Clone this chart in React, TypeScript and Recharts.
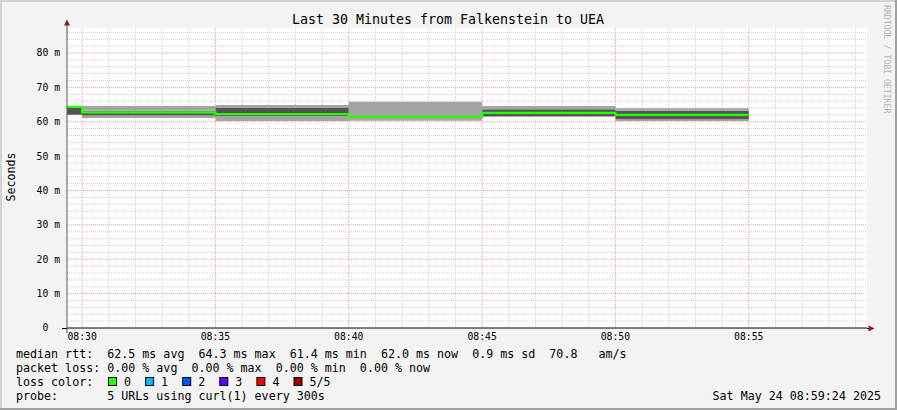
import { ComposedChart, Area, Line, XAxis, YAxis, CartesianGrid } from "recharts";

const MONO = "'DejaVu Sans Mono', monospace";

// step start times; the last entry closes the final step
const stepTimes = ["08:29:26", "08:30:00", "08:35:00", "08:40:00", "08:45:00", "08:50:00", "08:55:00"];

// five sorted pings per step (ms), median drawn in the loss colour
const pingLow = [62.0, 61.1, 60.2, 60.3, 61.4, 60.2];
const pingQ1 = [62.0, 61.8, 61.7, 61.2, 61.7, 60.7];
const medianRtt = [64.3, 62.7, 62.2, 61.4, 62.6, 62.0];
const pingQ3 = [64.1, 63.2, 64.0, 61.7, 63.6, 63.2];
const pingHigh = [64.1, 64.6, 64.9, 65.8, 64.6, 63.9];

const timeTicks = ["08:30", "08:35", "08:40", "08:45", "08:50", "08:55"];
const rttTicks = [0, 10, 20, 30, 40, 50, 60, 70, 80];
const viewStart = "08:29:26";
const viewEnd = "08:59:26";

const titleText = "Last 30 Minutes from Falkenstein to UEA";
const statsLine = "median rtt:  62.5 ms avg  64.3 ms max  61.4 ms min  62.0 ms now  0.9 ms sd  70.8   am/s";
const lossLine = "packet loss: 0.00 % avg  0.00 % max  0.00 % min  0.00 % now";
const lossLabels = ["0", "1", "2", "3", "4", "5/5"];
const lossColors = ["#26ff00", "#00b8ff", "#0059ff", "#5e00ff", "#ff0000", "#a10000"];
const probeLine = "probe:       5 URLs using curl(1) every 300s";
const stampText = "Sat May 24 08:59:24 2025";

const toSec = (clock: string) => {
    const [h, m, s = "0"] = clock.split(":");
    return Number(h) * 3600 + Number(m) * 60 + Number(s);
};

const data = stepTimes.map((time, i) => {
    const k = Math.min(i, medianRtt.length - 1);
    return {
        t: toSec(time),
        base: pingLow[k],
        outerLow: pingQ1[k] - pingLow[k],
        inner: pingQ3[k] - pingQ1[k],
        outerHigh: pingHigh[k] - pingQ3[k],
        median: medianRtt[k],
    };
});

const yTop = 87.27;
const xDomain = [toSec(viewStart), toSec(viewEnd)];
const minorY: number[] = [];
for (let v = 2; v < yTop; v += 2) if (v % 10 !== 0) minorY.push(v);
const majorY = rttTicks.filter((v) => v > 0);
const majorX = timeTicks.map((t) => toSec(t));
const minorX: number[] = [];
for (let s = toSec("08:30"); s <= toSec(viewEnd); s += 60) if (!majorX.includes(s)) minorX.push(s);

const fmtClock = (sec: number) => {
    const h = Math.floor(sec / 3600);
    const m = Math.floor((sec % 3600) / 60);
    return `${String(h).padStart(2, "0")}:${String(m).padStart(2, "0")}`;
};

function RttTick(props: any) {
    const { x, y, payload } = props;
    const label = payload.value === 0 ? "0  " : `${payload.value} m`;
    return (
        <text x={x} y={y} dy="0.355em" textAnchor="end" fontSize={9.75} fontFamily={MONO} fill="#000" xmlSpace="preserve">
            {label}
        </text>
    );
}

export default function App() {
    const legendX = 16;
    const rows = [358, 372, 386, 400];
    return (
        <div style={{ position: "relative", width: 897, height: 410, background: "#f3f3f3" }}>
            <style>{"body{margin:0}"}</style>
            <ComposedChart width={897} height={410} data={data} margin={{ top: 28, right: 30, bottom: 0, left: 0 }}>
                <CartesianGrid
                    fill="#fff"
                    stroke="#cfcfcf"
                    strokeDasharray="1 1"
                    horizontalValues={minorY}
                    verticalValues={minorX}
                    syncWithTicks
                />
                <CartesianGrid
                    stroke="#f2a0a0"
                    strokeDasharray="1 1"
                    horizontalValues={majorY}
                    verticalValues={majorX}
                    syncWithTicks
                />
                <XAxis
                    dataKey="t"
                    type="number"
                    domain={xDomain}
                    allowDataOverflow
                    ticks={majorX}
                    interval={0}
                    tickFormatter={fmtClock}
                    height={82}
                    tickSize={0}
                    tickMargin={5}
                    tickLine={false}
                    axisLine={{ stroke: "#000" }}
                    tick={{ fontSize: 9.75, fontFamily: MONO, fill: "#000" }}
                />
                <YAxis
                    type="number"
                    domain={[0, yTop]}
                    allowDataOverflow
                    ticks={rttTicks}
                    interval={0}
                    width={67}
                    tickSize={0}
                    tickMargin={7}
                    tickLine={false}
                    axisLine={{ stroke: "#555" }}
                    tick={<RttTick />}
                />
                <Area dataKey="base" stackId="smoke" type="stepAfter" stroke="none" fill="none" isAnimationActive={false} />
                <Area dataKey="outerLow" stackId="smoke" type="stepAfter" stroke="none" fill="#a4a4a4" fillOpacity={1} isAnimationActive={false} />
                <Area dataKey="inner" stackId="smoke" type="stepAfter" stroke="none" fill="#545454" fillOpacity={1} isAnimationActive={false} />
                <Area dataKey="outerHigh" stackId="smoke" type="stepAfter" stroke="none" fill="#a4a4a4" fillOpacity={1} isAnimationActive={false} />
                <Line dataKey="median" type="stepAfter" stroke="#26ff00" strokeWidth={2.2} dot={false} activeDot={false} isAnimationActive={false} />
            </ComposedChart>
            <svg width={897} height={410} style={{ position: "absolute", left: 0, top: 0, pointerEvents: "none" }}>
                <line x1={0} y1={1} x2={897} y2={1} stroke="#d2d2d2" strokeWidth={2} />
                <line x1={1} y1={0} x2={1} y2={410} stroke="#d2d2d2" strokeWidth={2} />
                <line x1={0} y1={409} x2={897} y2={409} stroke="#a2a2a2" strokeWidth={2} />
                <line x1={896} y1={0} x2={896} y2={410} stroke="#a2a2a2" strokeWidth={2} />

                <text x={448} y={23.5} textAnchor="middle" fontSize={13.3} fontFamily={MONO} fill="#000">
                    {titleText}
                </text>
                <text transform="translate(15,177) rotate(-90)" textAnchor="middle" fontSize={11.6} fontFamily={MONO} fill="#000">
                    Seconds
                </text>
                <text transform="translate(884,5) rotate(90)" fontSize={8.2} fontFamily={MONO} fill="#b4b4b4">
                    RRDTOOL / TOBI OETIKER
                </text>

                <line x1={67} y1={25} x2={67} y2={28} stroke="#555" />
                <line x1={67} y1={328} x2={67} y2={333} stroke="#555" />
                <line x1={62} y1={328.5} x2={67} y2={328.5} stroke="#000" />
                <line x1={867} y1={328.5} x2={869} y2={328.5} stroke="#000" />
                <polygon points="64,25.5 70,25.5 67,19.5" fill="#8b1a1a" />
                <polygon points="868.5,325.5 868.5,331.5 874.5,328.5" fill="#8b1a1a" />

                <g fontSize={11.66} fontFamily={MONO} fill="#000">
                    <text x={legendX} y={rows[0]} xmlSpace="preserve">{statsLine}</text>
                    <text x={legendX} y={rows[1]} xmlSpace="preserve">{lossLine}</text>
                    <text x={legendX} y={rows[2]} xmlSpace="preserve">loss color:</text>
                    {lossLabels.map((label, i) => (
                        <g key={label}>
                            <rect x={108.5 + i * 37.1} y={377.5} width={8} height={8} fill={lossColors[i]} stroke="#000" strokeWidth={1} />
                            <text x={124 + i * 37.1} y={rows[2]}>{label}</text>
                        </g>
                    ))}
                    <text x={legendX} y={rows[3]} xmlSpace="preserve">{probeLine}</text>
                    <text x={881} y={rows[3]} textAnchor="end">{stampText}</text>
                </g>
            </svg>
        </div>
    );
}
